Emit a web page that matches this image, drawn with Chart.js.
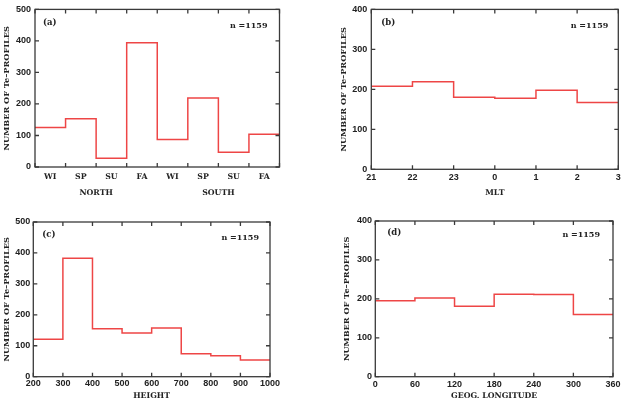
<!DOCTYPE html>
<html><head><meta charset="utf-8">
<script src="https://cdn.jsdelivr.net/npm/chart.js@4.4.1/dist/chart.umd.min.js"></script>
<style>
html,body{margin:0;padding:0;background:#fff;}
#wrap{position:relative;width:626px;height:412px;overflow:hidden;}
canvas{position:absolute;}
</style></head><body>
<div id="wrap">
<canvas id="ca" width="313" height="206" style="left:0;top:0;width:313px;height:206px"></canvas>
<canvas id="cb" width="313" height="206" style="left:313px;top:0;width:313px;height:206px"></canvas>
<canvas id="cc" width="313" height="206" style="left:0;top:206px;width:313px;height:206px"></canvas>
<canvas id="cd" width="313" height="206" style="left:313px;top:206px;width:313px;height:206px"></canvas>
</div>
<script>
// ---- data ----
const seasonLabels = ['WI','SP','SU','FA','WI','SP','SU','FA'];
const hemisphereLabels = ['NORTH','SOUTH'];
const countsSeason = [125,153,28,394,87,219,47,104];

const mltLabels = ['21','22','23','0','1','2','3'];
const countsMLT = [208,219,180,178,198,167];

const heightEdges = [200,300,400,500,600,700,800,900,1000];
const countsHeight = [121,383,155,141,157,74,68,54];

const lonEdges = [0,60,120,180,240,300,360];
const countsLon = [195,202,181,212,211,160];

const yTitleText = 'NUMBER OF Te\u2013PROFILES';
const noteText = 'n =1159';

// ---- styling ----
const TXT = '#222';
const RED = '#ee4646';
const SERIF = '"DejaVu Serif", "Liberation Serif", serif';
const numFont = {family:'"Liberation Sans", Arial, sans-serif', size:9, weight:'bold'};
const serifFont = {family:SERIF, size:7.8, weight:'bold'};
const yTitleFont = {family:SERIF, size:8.2, weight:'bold'};

function stepPoints(edges, values){
  const pts = values.map((v,i)=>({x:edges[i], y:v}));
  pts.push({x:edges[edges.length-1], y:values[values.length-1]});
  return pts;
}

const framePlugin = {
  id:'frame',
  afterDatasetsDraw(chart, args, o){
    const {ctx, chartArea:a, scales} = chart;
    const xs = scales.x, ys = scales.y;
    ctx.save();
    ctx.strokeStyle = '#3a3a3a';
    ctx.lineWidth = 1.3;
    ctx.strokeRect(a.left, a.top, a.right-a.left, a.bottom-a.top);
    ctx.beginPath();
    const L = 4;
    o.xEdges.forEach(v=>{
      const p = xs.getPixelForValue(v);
      ctx.moveTo(p, a.bottom); ctx.lineTo(p, a.bottom-L);
      ctx.moveTo(p, a.top); ctx.lineTo(p, a.top+L);
    });
    ys.ticks.forEach(t=>{
      const p = ys.getPixelForValue(t.value);
      ctx.moveTo(a.left, p); ctx.lineTo(a.left+L, p);
      ctx.moveTo(a.right, p); ctx.lineTo(a.right-L, p);
    });
    ctx.stroke();
    ctx.fillStyle = TXT;
    ctx.textBaseline = 'middle';
    ctx.font = 'bold 8.5px ' + SERIF;
    ctx.textAlign = 'left';
    ctx.fillText(o.tag, a.left+o.tagDx, a.top+o.tagDy);
    ctx.font = 'bold 8px ' + SERIF;
    ctx.textAlign = 'right';
    ctx.fillText(noteText, a.right-o.noteDx, a.top+o.noteDy);
    ctx.restore();
  }
};

function makeChart(id, c){
  const scales = {
    x: {
      type:'linear', min:c.xMin, max:c.xMax, weight:0,
      afterBuildTicks(s){ s.ticks = c.xTickValues.map(v=>({value:v})); },
      ticks:{autoSkip:false, maxRotation:0, minRotation:0, padding:c.xTickPad, color:TXT,
             font:c.xTickFont, callback:(v,i)=>c.xTickLabels[i]},
      grid:{display:false, drawTicks:false}, border:{display:false},
      title: c.xTitle ? {display:true, text:c.xTitle, color:TXT, font:serifFont, padding:{top:0,bottom:c.xTitlePad}} : {display:false},
      afterFit(s){ s.height = c.xHeight; }
    },
    y: {
      type:'linear', min:0, max:c.yMax,
      ticks:{stepSize:100, padding:c.yTickPad, color:TXT, font:numFont},
      grid:{display:false, drawTicks:false}, border:{display:false},
      title:{display:true, text:yTitleText, color:TXT, font:yTitleFont, padding:{top:c.yTitlePad, bottom:0}},
      afterFit(s){ s.width = c.yWidth; }
    }
  };
  if (c.extra) scales.xg = c.extra;
  return new Chart(document.getElementById(id), {
    type:'line',
    data:{datasets:[{data:stepPoints(c.edges, c.values), stepped:true, borderColor:RED,
      borderWidth:1.5, pointRadius:0, fill:false, tension:0}]},
    options:{
      responsive:false, animation:false, devicePixelRatio:1,
      layout:{padding:{left:0, top:c.padTop, right:c.padRight, bottom:0}},
      plugins:{legend:{display:false}, tooltip:{enabled:false}, title:{display:false},
        frame:{xEdges:c.edges, tag:c.tag, tagDx:c.tagDx, tagDy:c.tagDy, noteDx:c.noteDx, noteDy:c.noteDy}},
      scales
    },
    plugins:[framePlugin]
  });
}

const seasonEdges = seasonLabels.map((_,i)=>i).concat([seasonLabels.length]);
const mltEdges = mltLabels.map((_,i)=>i);

// (a)
makeChart('ca', {
  edges:seasonEdges, values:countsSeason, xMin:0, xMax:seasonLabels.length,
  xTickValues:seasonLabels.map((_,i)=>i+0.5), xTickLabels:seasonLabels, xTickFont:serifFont,
  xTickPad:5.5, xHeight:18, xTitle:null,
  yMax:500, yTickPad:4, yWidth:35, yTitlePad:2.3,
  padTop:7.5, padRight:33.5,
  tag:'(a)', tagDx:8, tagDy:13, noteDx:12, noteDy:16.5,
  extra:{
    type:'linear', position:'bottom', weight:1, min:0, max:seasonLabels.length,
    afterBuildTicks(s){ s.ticks = hemisphereLabels.map((_,i)=>({value:(i+0.5)*seasonLabels.length/hemisphereLabels.length})); },
    ticks:{autoSkip:false, maxRotation:0, padding:2.8, color:TXT, font:serifFont, callback:(v,i)=>hemisphereLabels[i]},
    grid:{display:false, drawTicks:false}, border:{display:false},
    afterFit(s){ s.height = 21; }
  }
});

// (b)
makeChart('cb', {
  edges:mltEdges, values:countsMLT, xMin:0, xMax:mltLabels.length-1,
  xTickValues:mltEdges, xTickLabels:mltLabels, xTickFont:numFont,
  xTickPad:3, xHeight:36.7, xTitle:'MLT', xTitlePad:8.4,
  yMax:400, yTickPad:4, yWidth:58.3, yTitlePad:25.7,
  padTop:7.3, padRight:7.7,
  tag:'(b)', tagDx:10, tagDy:13.4, noteDx:10, noteDy:16.7
});

// (c)
makeChart('cc', {
  edges:heightEdges, values:countsHeight, xMin:heightEdges[0], xMax:heightEdges[heightEdges.length-1],
  xTickValues:heightEdges, xTickLabels:heightEdges.map(String), xTickFont:numFont,
  xTickPad:1.2, xHeight:35.3, xTitle:'HEIGHT', xTitlePad:11.8,
  yMax:500, yTickPad:3, yWidth:33.3, yTitlePad:1.7,
  padTop:16, padRight:43,
  tag:'(c)', tagDx:9, tagDy:12.3, noteDx:11, noteDy:16
});

// (d)
makeChart('cd', {
  edges:lonEdges, values:countsLon, xMin:lonEdges[0], xMax:lonEdges[lonEdges.length-1],
  xTickValues:lonEdges, xTickLabels:lonEdges.map(String), xTickFont:numFont,
  xTickPad:2.2, xHeight:35.3, xTitle:'GEOG. LONGITUDE', xTitlePad:11.8,
  yMax:400, yTickPad:3.3, yWidth:62.3, yTitlePad:29,
  padTop:15, padRight:13,
  tag:'(d)', tagDx:12, tagDy:11.7, noteDx:13, noteDy:14.3
});
</script>
</body></html>
